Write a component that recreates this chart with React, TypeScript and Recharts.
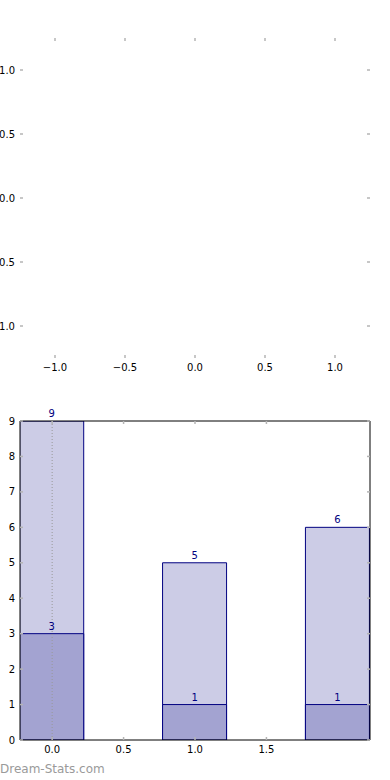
import React from "react";
import {
  ComposedChart,
  XAxis,
  YAxis,
  Bar,
  Scatter,
  LabelList,
  ReferenceLine,
} from "recharts";

// ---- data ----
const topTicks = [-1, -0.5, 0, 0.5, 1];
const topDomain = [-1.25, 1.25];

const categories = [0, 1, 2];
const totalValues = [9, 5, 6];
const lowValues = [3, 1, 1];
const barXTicks = [0, 0.5, 1, 1.5];
const barYTicks = [0, 1, 2, 3, 4, 5, 6, 7, 8, 9];

const rows = categories.map((x, i) => ({ x, total: totalValues[i], low: lowValues[i] }));
const emptyPoints: { x: number; y: number }[] = [];

const FONT = "DejaVu Sans, sans-serif";
const TICK_COLOR = "#b4b4b4";
const fmt = (v: number) => (v < 0 ? "\u2212" + Math.abs(v).toFixed(1) : v.toFixed(1));
const blank = () => "";
const tickStyle = { fontSize: 10, fill: "#000", fontFamily: FONT };
const tickLine = { stroke: TICK_COLOR, strokeWidth: 1.5 };

function TopChart() {
  return (
    <ComposedChart
      width={390}
      height={380}
      margin={{ top: 37, right: 19, bottom: 0, left: 0 }}
      style={{ fontFamily: FONT }}
    >
      <XAxis
        xAxisId="b"
        type="number"
        dataKey="x"
        domain={topDomain}
        ticks={topTicks}
        allowDataOverflow
        height={22}
        axisLine={false}
        tickLine={tickLine}
        tickSize={-3}
        tickMargin={9}
        tick={tickStyle}
        tickFormatter={fmt}
        interval={0}
      />
      <XAxis
        xAxisId="t"
        orientation="top"
        type="number"
        dataKey="x"
        domain={topDomain}
        ticks={topTicks}
        allowDataOverflow
        height={1}
        axisLine={false}
        tickLine={tickLine}
        tickSize={-3}
        tick={tickStyle}
        tickFormatter={blank}
        interval={0}
      />
      <YAxis
        yAxisId="l"
        type="number"
        dataKey="y"
        domain={topDomain}
        ticks={topTicks}
        allowDataOverflow
        width={20}
        axisLine={false}
        tickLine={tickLine}
        tickSize={-3}
        tickMargin={8}
        tick={tickStyle}
        tickFormatter={fmt}
        interval={0}
      />
      <YAxis
        yAxisId="r"
        orientation="right"
        type="number"
        dataKey="y"
        domain={topDomain}
        ticks={topTicks}
        allowDataOverflow
        width={1}
        axisLine={false}
        tickLine={tickLine}
        tickSize={-3}
        tick={tickStyle}
        tickFormatter={blank}
        interval={0}
      />
      <Scatter xAxisId="b" yAxisId="l" data={emptyPoints} isAnimationActive={false} />
      <Scatter xAxisId="t" yAxisId="r" data={emptyPoints} isAnimationActive={false} />
    </ComposedChart>
  );
}

function BottomChart() {
  const axisLine = { stroke: "#000", strokeWidth: 1 };
  return (
    <ComposedChart
      width={390}
      height={382}
      data={rows}
      margin={{ top: 40, right: 19, bottom: 0, left: 0 }}
      style={{ fontFamily: FONT }}
    >
      <XAxis
        xAxisId="b"
        type="number"
        dataKey="x"
        domain={[-0.225, 2.225]}
        ticks={barXTicks}
        allowDataOverflow
        height={22}
        axisLine={axisLine}
        tickLine={tickLine}
        tickSize={-3}
        tickMargin={9}
        tick={tickStyle}
        tickFormatter={(v: number) => v.toFixed(1)}
        interval={0}
      />
      <XAxis
        xAxisId="b2"
        type="number"
        dataKey="x"
        domain={[-0.225, 2.225]}
        ticks={barXTicks}
        allowDataOverflow
        hide
      />
      <XAxis
        xAxisId="t"
        orientation="top"
        type="number"
        dataKey="x"
        domain={[-0.225, 2.225]}
        ticks={barXTicks}
        allowDataOverflow
        height={1}
        axisLine={axisLine}
        tickLine={tickLine}
        tickSize={-3}
        tick={tickStyle}
        tickFormatter={blank}
        interval={0}
      />
      <YAxis
        yAxisId="l"
        type="number"
        domain={[0, 9]}
        ticks={barYTicks}
        allowDataOverflow
        width={20}
        axisLine={axisLine}
        tickLine={tickLine}
        tickSize={-3}
        tickMargin={8}
        tick={tickStyle}
        interval={0}
      />
      <YAxis
        yAxisId="r"
        orientation="right"
        type="number"
        domain={[0, 9]}
        ticks={barYTicks}
        allowDataOverflow
        width={1}
        axisLine={axisLine}
        tickLine={tickLine}
        tickSize={-3}
        tick={tickStyle}
        tickFormatter={blank}
        interval={0}
      />
      <Bar
        xAxisId="b"
        yAxisId="l"
        dataKey="total"
        barSize={64}
        fill="#ccccE6"
        stroke="#000080"
        strokeWidth={1}
        isAnimationActive={false}
      >
        <LabelList dataKey="total" position="top" offset={4} fill="#000080" fontSize={10} fontFamily={FONT} />
      </Bar>
      <Bar
        xAxisId="b2"
        yAxisId="l"
        dataKey="low"
        barSize={64}
        fill="#a3a3d1"
        stroke="#000080"
        strokeWidth={1}
        isAnimationActive={false}
      >
        <LabelList dataKey="low" position="top" offset={4} fill="#000080" fontSize={10} fontFamily={FONT} />
      </Bar>
      <ReferenceLine
        xAxisId="b"
        yAxisId="l"
        x={0}
        stroke="#999"
        strokeWidth={1}
        strokeDasharray="1 2"
      />
    </ComposedChart>
  );
}

export default function App() {
  return (
    <div style={{ position: "absolute", left: 0, top: 0, width: 390, height: 780, background: "#fff" }}>
      <div style={{ position: "absolute", left: 0, top: 0 }}>
        <TopChart />
      </div>
      <div style={{ position: "absolute", left: 0, top: 380 }}>
        <BottomChart />
      </div>
      <div
        style={{
          position: "absolute",
          left: 0,
          top: 762,
          fontFamily: FONT,
          fontSize: 12,
          color: "#9a9a9a",
          lineHeight: "14px",
          whiteSpace: "nowrap",
        }}
      >
        Dream-Stats.com
      </div>
    </div>
  );
}
